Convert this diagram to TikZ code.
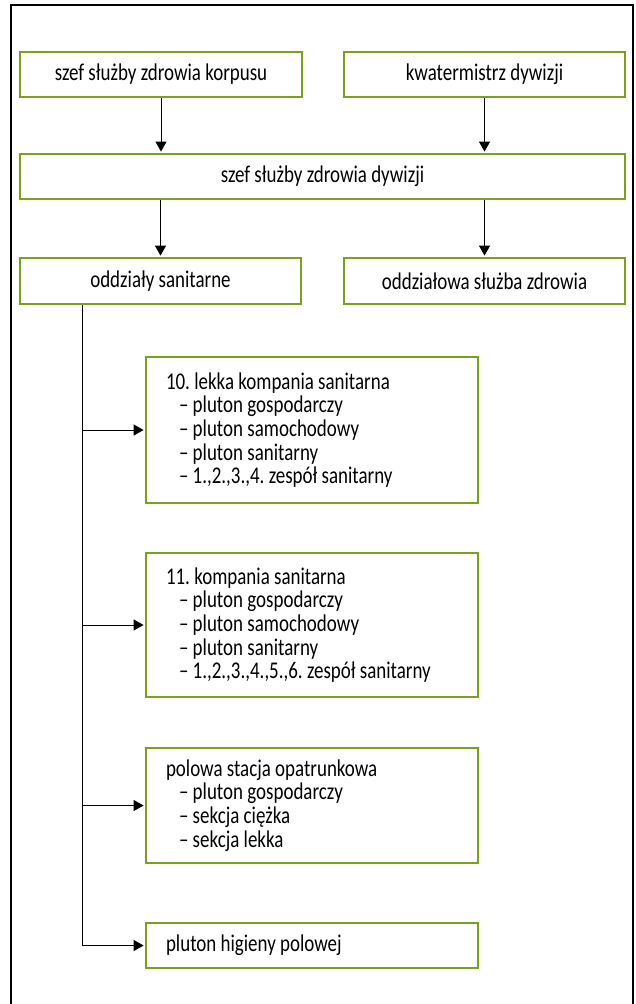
\documentclass[tikz,border=0pt]{standalone}
\usepackage{fontspec}
\setmainfont{Carlito}[FakeStretch=0.79]
\usetikzlibrary{arrows.meta}
\definecolor{boxgreen}{RGB}{122,161,28}

\begin{document}
\frenchspacing
\begin{tikzpicture}[x=1pt, y=-1pt,
    orgbox/.style={draw=boxgreen, line width=2.8pt, minimum height=45pt, inner sep=0pt,
        font=\fontsize{24}{23.7}\selectfont},
    listbox/.style={orgbox, text width=292pt, inner xsep=20pt, align=flush left},
    conn/.style={-{Triangle[width=11pt,length=10pt]}, line width=1pt, shorten >=1pt}]
    \useasboundingbox (0,0) rectangle (636,1004);
    % frame
    \draw[line width=1.3pt] (11,1004) -- (11,5) -- (633,5) -- (633,1004);
    % top row
    \node[orgbox, minimum width=282pt](korpus) at (161,74.5) {szef służby zdrowia korpusu};
    \node[orgbox, minimum width=281pt](kwater) at (484.5,74.5) {kwatermistrz dywizji};
    % division
    \node[orgbox, minimum width=605pt](dywizja) at (322.5,176.5) {szef służby zdrowia dywizji};
    \node[orgbox, minimum width=281pt, minimum height=46pt](sanitarne) at (160.5,281) {oddziały sanitarne};
    \node[orgbox, minimum width=281pt, minimum height=46pt](oddzialowa) at (484.5,281) {oddziałowa służba zdrowia};
    % units
    \node[listbox, minimum height=146pt](komp10) at (312,430) {10. lekka kompania sanitarna\\
        \hspace*{13pt}– pluton gospodarczy\\
        \hspace*{13pt}– pluton samochodowy\\
        \hspace*{13pt}– pluton sanitarny\\
        \hspace*{13pt}– 1.,2.,3.,4. zespół sanitarny};
    \node[listbox, minimum height=144pt](komp11) at (312,625) {11. kompania sanitarna\\
        \hspace*{13pt}– pluton gospodarczy\\
        \hspace*{13pt}– pluton samochodowy\\
        \hspace*{13pt}– pluton sanitarny\\
        \hspace*{13pt}– 1.,2.,3.,4.,5.,6. zespół sanitarny};
    \node[listbox, minimum height=115pt](stacja) at (312,805.5) {polowa stacja opatrunkowa\\
        \hspace*{13pt}– pluton gospodarczy\\
        \hspace*{13pt}– sekcja ciężka\\
        \hspace*{13pt}– sekcja lekka};
    \node[listbox, minimum height=45pt](higiena) at (312,945.5) {pluton higieny polowej};
    \coordinate (spine) at (82,304);
    % Connections
    \draw[conn] (korpus.south) -- (korpus.south |- dywizja.north);
    \draw[conn] (kwater.south) -- (kwater.south |- dywizja.north);
    \draw[conn] (sanitarne.north |- dywizja.south) -- (sanitarne.north);
    \draw[conn] (oddzialowa.north |- dywizja.south) -- (oddzialowa.north);
    \draw[conn] (sanitarne.south -| spine) |- (higiena.west);
    \foreach \unit in {komp10, komp11, stacja}
        \draw[conn] (spine |- \unit.west) -- (\unit.west);
\end{tikzpicture}
\end{document}
